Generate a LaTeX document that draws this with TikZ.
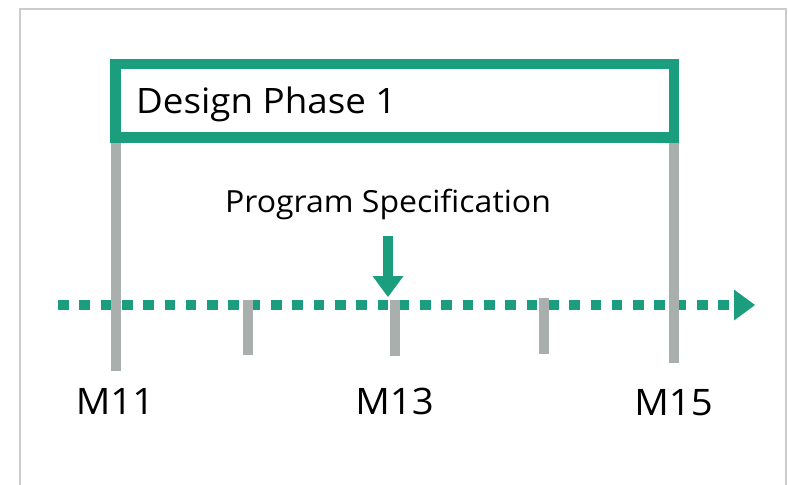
\documentclass[tikz,border=0pt]{standalone}
\usepackage{fontspec}
\setmainfont{Open Sans}[FakeStretch=1.05]
\usetikzlibrary{arrows.meta}
\definecolor{tgreen}{HTML}{1A9E7E}
\definecolor{tgray}{HTML}{A8AFAC}
\definecolor{fgray}{HTML}{CCCCCC}
\tikzset{
  frameline/.style={draw=fgray, line width=2pt},
  graybar/.style={draw=tgray, line width=10pt, line cap=butt},
  phasebox/.style={draw=tgreen, line width=10.5pt, fill=white, inner sep=0pt},
  timeline/.style={draw=tgreen, line width=10pt, line cap=butt, dash pattern=on 10.6pt off 10.7pt,
    -{Triangle[width=31pt,length=21pt,line width=0pt]}},
  specarrow/.style={draw=tgreen, line width=10pt, line cap=butt,
    -{Triangle[width=31pt,length=21pt,line width=0pt]}},
  lbl/.style={inner sep=0pt, text=black, font=\fontsize{35}{40}\selectfont},
  mlbl/.style={inner sep=0pt, text=black, font=\fontsize{36.5}{40}\selectfont},
  slbl/.style={inner sep=0pt, text=black, font=\fontsize{30.5}{36}\selectfont},
}
\begin{document}
\begin{tikzpicture}[x=1pt,y=-1pt]
\useasboundingbox (0,0) rectangle (788,485);
% frame
\coordinate (fbl) at (20,485);
\coordinate (ftl) at (20,9);
\coordinate (ftr) at (786,9);
\coordinate (fbr) at (786,485);
\draw[frameline] (fbl) -- (ftl) -- (ftr) -- (fbr);
% timeline
\coordinate (tls) at (58,305);
\coordinate (tle) at (755,305);
\draw[timeline] (tls) -- (tle);
% long milestone bars
\coordinate (m11t) at (116,138);
\coordinate (m11b) at (116,371);
\coordinate (m15t) at (674,138);
\coordinate (m15b) at (674,363);
\draw[graybar] (m11t) -- (m11b);
\draw[graybar] (m15t) -- (m15b);
% short ticks
\coordinate (t12t) at (248,300);
\coordinate (t12b) at (248,355);
\coordinate (t13t) at (395,300);
\coordinate (t13b) at (395,356);
\coordinate (t14t) at (544,298);
\coordinate (t14b) at (544,354);
\draw[graybar] (t12t) -- (t12b);
\draw[graybar] (t13t) -- (t13b);
\draw[graybar] (t14t) -- (t14b);
% phase box
\node[phasebox, minimum width=558.5pt, minimum height=73.5pt] (box) at (394.75,100.75) {};
\node[lbl, anchor=base west] (dp) at (136,113) {Design Phase 1};
% specification
\node[slbl, anchor=base] (spec) at (388,212) {Program Specification};
\coordinate (as) at (388,236);
\coordinate (ae) at (388,297);
\draw[specarrow] (as) -- (ae);
% labels
\node[mlbl, anchor=base] (l11) at (115,414) {M11};
\node[mlbl, anchor=base] (l13) at (394.5,414) {M13};
\node[mlbl, anchor=base] (l15) at (673.5,415) {M15};
\end{tikzpicture}
\end{document}
